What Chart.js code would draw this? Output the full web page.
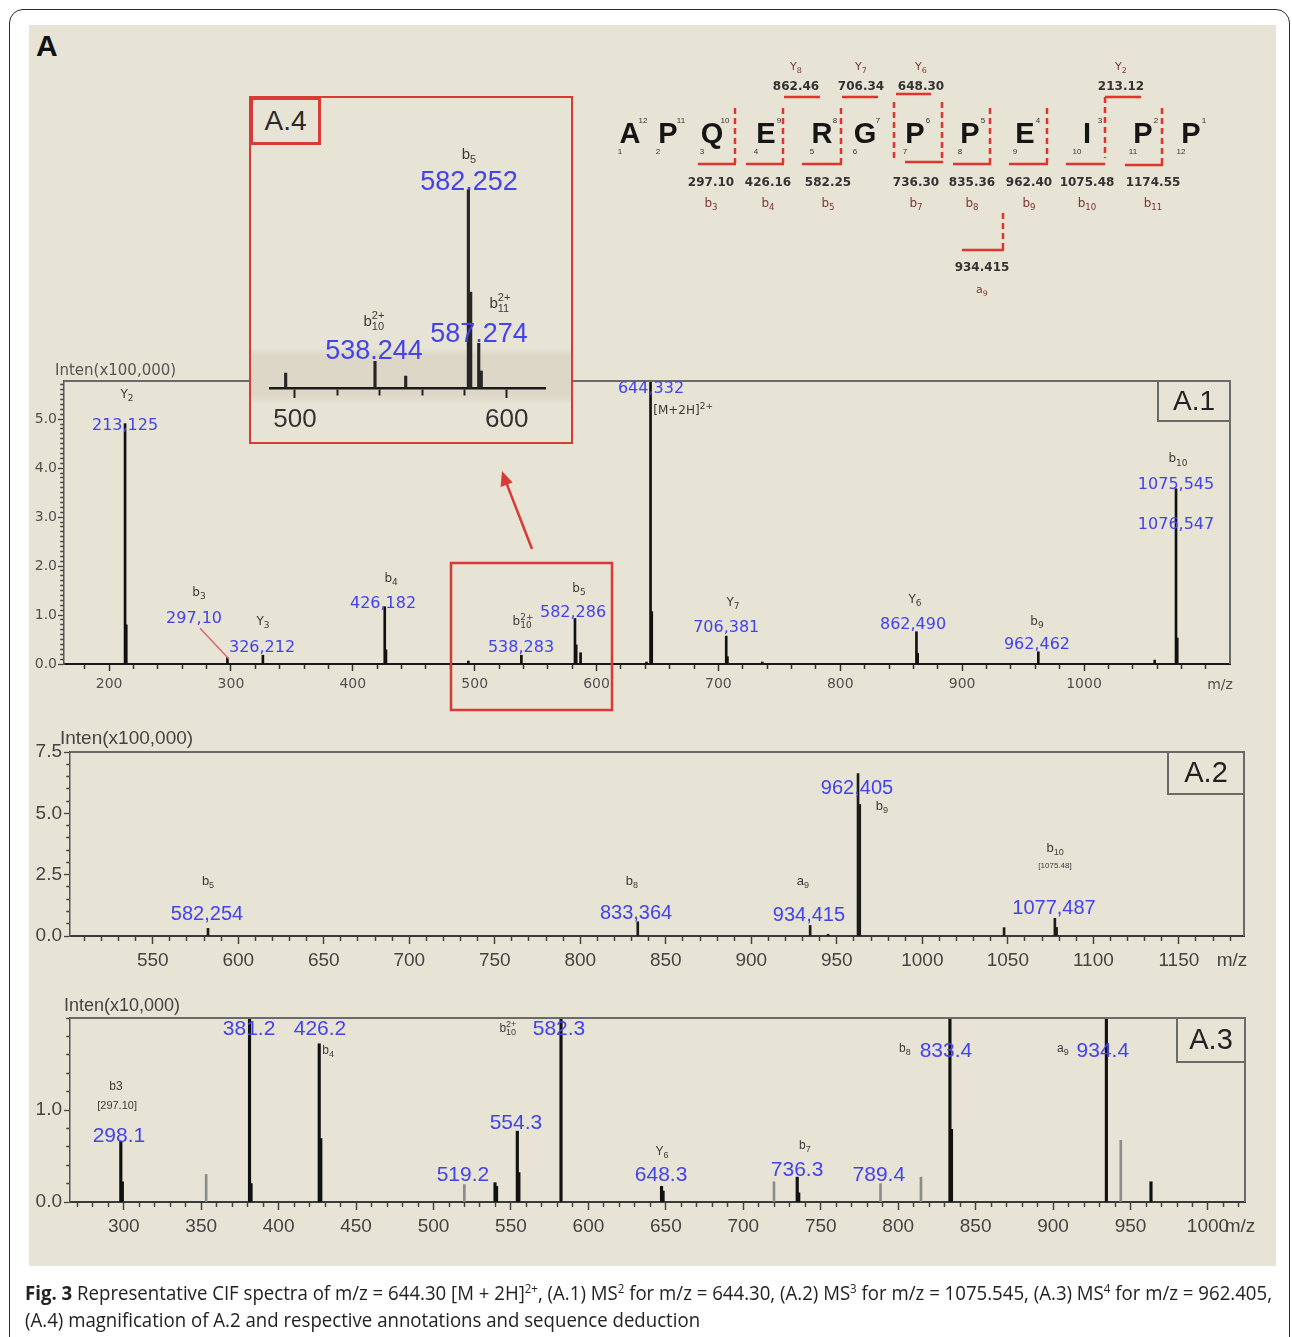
<!DOCTYPE html>
<html>
<head>
<meta charset="utf-8">
<title>Fig. 3 Representative CIF spectra</title>
<script src="https://cdn.jsdelivr.net/npm/chart.js@4.4.1/dist/chart.umd.min.js"></script>
<style>
  html, body { margin:0; padding:0; background:#fff; }
  #page { position:relative; width:1292px; height:1337px; overflow:hidden; background:#fff; font-family:"Liberation Sans", Arial, sans-serif; }
  #frame { position:absolute; left:9px; top:9px; width:1281px; height:1400px; border:1.5px solid #2b2b2b; border-radius:14px; box-sizing:border-box; }
  #panel { position:absolute; left:29px; top:25px; width:1247px; height:1241px; background:rgb(231,227,213); }
  #bigA { position:absolute; left:36px; top:29px; font:bold 30px "Liberation Sans", Arial, sans-serif; color:#111; }
  canvas { position:absolute; }
  #c1, #c2, #c3 { z-index:1; }
  #inset { position:absolute; left:249px; top:96px; width:324px; height:348px; box-sizing:border-box; border:2.5px solid #d83a36; background:rgb(231,227,213); z-index:2; }
  #band { position:absolute; left:0; right:0; top:250px; height:56px; background:linear-gradient(to bottom, rgba(218,213,196,0) 0px, rgb(220,215,198) 8px, rgb(220,215,198) 46px, rgba(218,213,196,0) 56px); }
  #a4label { position:absolute; left:-1px; top:-1px; width:71px; height:48px; box-sizing:border-box; border:3px solid #d83a36; font:28px "Liberation Sans", Arial, sans-serif; color:#2a2a2a; text-align:center; line-height:42px; }
  #c4 { z-index:3; }
  #overlay { position:absolute; left:0; top:0; z-index:4; pointer-events:none; }
  .cap { position:absolute; left:25px; white-space:nowrap; font:20px "Liberation Sans Narrow", "Open Sans", sans-serif; line-height:26px; color:#222; transform-origin:0 0; z-index:5; }
  .cap sup { font-size:0.62em; line-height:0; vertical-align:0.55em; }
  #cap1 { top:1280px; }
  #cap2 { top:1307px; }
</style>
</head>
<body>
<div id="page">
  <div id="frame"></div>
  <div id="panel"></div>
  <div id="bigA">A</div>
  <canvas id="c1" width="1250" height="350"></canvas>
  <canvas id="c2" width="1250" height="260"></canvas>
  <canvas id="c3" width="1250" height="265"></canvas>
  <div id="inset"><div id="band"></div><div id="a4label">A.4</div></div>
  <canvas id="c4" width="318" height="342"></canvas>
  <svg id="overlay" width="1292" height="1337" xmlns="http://www.w3.org/2000/svg"></svg>
  <div id="cap1" class="cap"><b>Fig. 3</b> Representative CIF spectra of m/z = 644.30 [M + 2H]<sup>2+</sup>, (A.1) MS<sup>2</sup> for m/z = 644.30, (A.2) MS<sup>3</sup> for m/z = 1075.545, (A.3) MS<sup>4</sup> for m/z = 962.405,</div>
  <div id="cap2" class="cap">(A.4) magnification of A.2 and respective annotations and sequence deduction</div>
</div>
<script>
// ===================== DATA =====================
// A.1  MS2 of m/z 644.30  (intensity x100,000)
const a1Mz        = [213.1, 214.1, 297.1, 326.2, 426.2, 427.2, 494.8, 538.3, 582.3, 583.3, 586.9, 641.0, 644.3, 645.3, 706.4, 707.4, 736.0, 862.5, 863.5, 962.5, 1058.0, 1075.5, 1076.5];
const a1Intensity = [4.91,  0.80,  0.13,  0.18,  1.17,  0.29,  0.06,  0.18,  0.93,  0.39,  0.23,  0.04,  6.20,  1.07,  0.57,  0.15,  0.04,  0.66,  0.22,  0.25,  0.08,   3.58,   0.53];
const a1XTickLabels = [200, 300, 400, 500, 600, 700, 800, 900, 1000];
const a1YTickLabels = [0, 1, 2, 3, 4, 5];

// A.2  MS3 of m/z 1075.545  (intensity x100,000)
const a2Mz        = [582.3, 833.6, 934.4, 944.9, 962.4, 963.4, 1047.8, 1077.5, 1078.5];
const a2Intensity = [0.31,  0.58,  0.43,  0.07,  6.62,  5.36,  0.34,   0.72,   0.35];
const a2XTickLabels = [550, 600, 650, 700, 750, 800, 850, 900, 950, 1000, 1050, 1100, 1150];
const a2YTickLabels = [0, 2.5, 5.0, 7.5];

// A.3  MS4 of m/z 962.405  (intensity x10,000)
const a3Mz            = [298.1, 299.1, 381.2, 382.2, 426.2, 427.2, 539.7, 540.7, 554.1, 555.1, 582.3, 647.2, 648.2, 734.8, 735.8, 833.4, 834.4, 934.4, 963.2];
const a3Intensity     = [0.66,  0.22,  2.60,  0.20,  1.72,  0.69,  0.21,  0.17,  0.77,  0.32,  2.60,  0.17,  0.12,  0.27,  0.10,  2.60,  0.79,  2.60,  0.22];
const a3MinorMz        = [353.2, 519.9, 719.8, 788.6, 814.7, 943.7];
const a3MinorIntensity = [0.30,  0.19,  0.22,  0.20,  0.27,  0.67];
const a3XTickLabels = [300, 350, 400, 450, 500, 550, 600, 650, 700, 750, 800, 850, 900, 950, 1000];
const a3YTickLabels = [0, 1.0];

// A.4  magnified region 490-610 (same units as A.1)
const a4Mz        = [495.6, 537.8, 552.3, 581.9, 583.0, 586.8, 588.0];
const a4Intensity = [0.070, 0.125, 0.056, 0.930, 0.450, 0.210, 0.080];
const a4XTickLabels = [500, 600];

// Peak annotations: [text, m/z anchor, intensity anchor]
const a1PeakNotes = [['213,125',213.1,4.86],['297,10',269.7,0.92],['326,212',325.5,0.33],['426,182',424.8,1.22],['538,283',538.0,0.33],['582,286',580.7,1.04],['644,332',644.7,5.63],['706,381',706.4,0.73],['862,490',859.7,0.80],['962,462',961.4,0.39],['1075,545',1075.5,3.65],['1076,547',1075.5,2.84]];
const a1IonNotes  = [['Y_{2}',214.7,5.49],['b_{3}',273.8,1.45],['Y_{3}',326.3,0.86],['b_{4}',431.4,1.73],['b_{10}^{2+}',539.7,0.86],['b_{5}',585.6,1.53],['[M+2H]^{2+}',671,5.16],['Y_{7}',712,1.24],['Y_{6}',861.3,1.31],['b_{9}',961.4,0.86],['b_{10}',1077.1,4.18]];
const a2PeakNotes = [['582,254',581.7,0.86],['833,364',832.6,0.90],['934,415',933.7,0.82],['962,405',961.8,6.03],['1077,487',1077.0,1.14]];
const a2IonNotes  = [['b_{5}',582.3,2.24],['b_{8}',830.2,2.24],['a_{9}',930.2,2.24],['b_{9}',976.4,5.30],['b_{10}',1077.6,3.59]];
const a2TinyNotes = [['[1075.48]',1077.6,2.85]];
const a3PeakNotes = [['298.1',296.9,0.72],['381.2',380.9,1.88],['426.2',426.7,1.88],['582.3',581.0,1.88],['519.2',519.0,0.29],['554.3',553.2,0.86],['648.3',646.9,0.29],['736.3',734.7,0.35],['789.4',787.5,0.29],['833.4',830.8,1.64],['934.4',932.1,1.64]];
const a3IonNotes  = [['b3',295.0,1.25],['b_{4}',431.9,1.65],['b_{10}^{2+}',548.0,1.88],['Y_{6}',647.5,0.55],['b_{7}',739.8,0.61],['b_{8}',804.3,1.67],['a_{9}',906.3,1.67]];
const a3TinyNotes = [['[297.10]',295.7,1.04]];
const a4PeakNotes = [['582.252',582.2,0.962],['538.244',537.3,0.169],['587.274',586.9,0.249]];
const a4IonNotes  = [['b_{5}',582.2,1.094],['b_{10}^{2+}',537.3,0.31],['b_{11}^{2+}',596.8,0.394]];

// Sequence deduction
const seqResidues   = ['A','P','Q','E','R','G','P','P','E','I','P','P'];
const seqBIonMasses = ['297.10','426.16','582.25','736.30','835.36','962.40','1075.48','1174.55'];
const seqBIonNames  = ['b_{3}','b_{4}','b_{5}','b_{7}','b_{8}','b_{9}','b_{10}','b_{11}'];
const seqYIonMasses = ['862.46','706.34','648.30','213.12'];
const seqYIonNames  = ['Y_{8}','Y_{7}','Y_{6}','Y_{2}'];
const seqAIonMass = '934.415', seqAIonName = 'a_{9}';

// ===================== HELPERS =====================
const FONT_D = '"DejaVu Sans", Verdana, sans-serif';
const FONT_L = '"Liberation Sans", Arial, sans-serif';
const BLUE = '#4343ec';

function parseRich(spec) {
  return (spec.match(/_\{[^}]*\}|\^\{[^}]*\}|[^_^]+/g) || []).map(p => {
    if (p.startsWith('_{')) return {t: p.slice(2, -1), k: 'sub'};
    if (p.startsWith('^{')) return {t: p.slice(2, -1), k: 'sup'};
    return {t: p, k: 'n'};
  });
}
function drawRich(ctx, spec, cx, cy, size, color, family) {
  const parts = parseRich(spec);
  const small = Math.round(size * 0.72);
  let x = 0, scriptStart = null, scriptW = 0;
  const items = [];
  parts.forEach(p => {
    ctx.font = (p.k === 'n' ? size : small) + 'px ' + family;
    const w = ctx.measureText(p.t).width;
    if (p.k === 'n') { items.push({...p, x}); x += w; scriptStart = null; }
    else {
      if (scriptStart === null) { scriptStart = x; scriptW = 0; }
      items.push({...p, x: scriptStart});
      scriptW = Math.max(scriptW, w); x = scriptStart + scriptW;
    }
  });
  const x0 = cx - x / 2;
  ctx.save();
  ctx.fillStyle = color; ctx.textBaseline = 'middle'; ctx.textAlign = 'left';
  items.forEach(it => {
    ctx.font = (it.k === 'n' ? size : small) + 'px ' + family;
    const dy = it.k === 'sub' ? size * 0.32 : it.k === 'sup' ? -size * 0.38 : 0;
    ctx.fillText(it.t, x0 + it.x, cy + dy);
  });
  ctx.restore();
}
function makeTicks(min, max, step) {
  const out = [];
  for (let k = Math.ceil(min / step - 1e-9); k * step <= max + 1e-9; k++) out.push({value: Math.round(k * step * 1000) / 1000});
  return out;
}
const has = (arr, v) => arr.some(t => Math.abs(t - v) < 1e-6);

function spectrum(cfg) {
  const cv = document.getElementById(cfg.canvas);
  cv.style.left = cfg.pos.left + 'px'; cv.style.top = cfg.pos.top + 'px';
  const W = cv.width, H = cv.height;
  const L = cfg.area.left - cfg.pos.left, R = cfg.area.right - cfg.pos.left;
  const T = cfg.area.top - cfg.pos.top, B = cfg.area.bottom - cfg.pos.top;
  const yShow = cfg.yShow !== false;
  const yt = cfg.yTick || {len: 0, minor: 0, width: 0, color: '#000', pad: 0};

  const datasets = cfg.series.map(s => ({
    data: s.mz.map((m, i) => ({x: m, y: s.y[i]})),
    backgroundColor: s.color, borderWidth: 0, barThickness: s.thick, grouped: false
  }));

  const decor = {
    id: 'decor_' + cfg.canvas,
    afterDraw(chart) {
      const {ctx, chartArea: ca} = chart;
      const xs = chart.scales.x, ys = chart.scales.y;
      ctx.save();
      if (cfg.frame) {
        ctx.strokeStyle = cfg.frame.color; ctx.lineWidth = cfg.frame.width;
        ctx.beginPath(); ctx.moveTo(ca.left, ca.top); ctx.lineTo(ca.right, ca.top); ctx.lineTo(ca.right, ca.bottom); ctx.stroke();
      }
      if (cfg.box) {
        const b = cfg.box;
        ctx.strokeStyle = cfg.frame.color; ctx.lineWidth = 2;
        ctx.beginPath(); ctx.moveTo(ca.right - b.w, ca.top); ctx.lineTo(ca.right - b.w, ca.top + b.h); ctx.lineTo(ca.right, ca.top + b.h); ctx.stroke();
        ctx.fillStyle = '#222'; ctx.font = b.size + 'px ' + FONT_L; ctx.textAlign = 'center'; ctx.textBaseline = 'middle';
        ctx.fillText(b.text, ca.right - b.w / 2, ca.top + b.h / 2 + 1);
      }
      if (cfg.title) {
        ctx.fillStyle = cfg.title.color; ctx.font = cfg.title.font; ctx.textAlign = 'left'; ctx.textBaseline = 'middle';
        ctx.fillText(cfg.title.text, ca.left + cfg.title.dx, ca.top + cfg.title.dy);
      }
      if (cfg.mz) {
        ctx.fillStyle = cfg.mz.color; ctx.font = cfg.mz.font; ctx.textAlign = 'center'; ctx.textBaseline = 'middle';
        ctx.fillText('m/z', ca.right + cfg.mz.dx, ca.bottom + cfg.mz.dy);
      }
      (cfg.leaders || []).forEach(l => {
        ctx.strokeStyle = l.color; ctx.lineWidth = 1.5;
        ctx.beginPath();
        ctx.moveTo(xs.getPixelForValue(l.from[0]), ys.getPixelForValue(l.from[1]));
        ctx.lineTo(xs.getPixelForValue(l.to[0]), ys.getPixelForValue(l.to[1]));
        ctx.stroke();
      });
      (cfg.peakNotes || []).forEach(n => drawRich(ctx, n[0], xs.getPixelForValue(n[1]), ys.getPixelForValue(n[2]), cfg.peakFont.size, BLUE, cfg.peakFont.family));
      (cfg.ionNotes || []).forEach(n => drawRich(ctx, n[0], xs.getPixelForValue(n[1]), ys.getPixelForValue(n[2]), cfg.ionFont.size, '#3a3a3a', cfg.ionFont.family));
      (cfg.tinyNotes || []).forEach(n => drawRich(ctx, n[0], xs.getPixelForValue(n[1]), ys.getPixelForValue(n[2]), cfg.tinySize, '#3a3a3a', cfg.ionFont.family));
      ctx.restore();
    }
  };

  return new Chart(cv, {
    type: 'bar',
    data: {datasets},
    options: {
      responsive: false, animation: false, events: [],
      layout: {padding: {left: yShow ? 0 : L, right: W - R, top: T, bottom: 0}},
      plugins: {legend: {display: false}, tooltip: {enabled: false}},
      scales: {
        x: {
          type: 'linear', bounds: 'data', min: cfg.xMin, max: cfg.xMax, offset: false,
          grid: {
            display: true, offset: false, drawOnChartArea: false, drawTicks: true,
            tickLength: cfg.xTick.len, tickWidth: cfg.xTick.width, tickColor: cfg.xTick.color,
            tickBorderDash: c => (c.tick && has(cfg.xLabels, c.tick.value)) ? [] : [cfg.xTick.minor, 100]
          },
          border: {display: true, color: cfg.xBorder.color, width: cfg.xBorder.width},
          ticks: {
            autoSkip: false, maxRotation: 0, minRotation: 0, padding: cfg.xTick.pad,
            color: cfg.tickColor, font: {size: cfg.tickFont.size, family: cfg.tickFont.family},
            callback: v => has(cfg.xLabels, v) ? String(v) : ''
          },
          afterBuildTicks: s => { s.ticks = makeTicks(cfg.xMin, cfg.xMax, cfg.xStep); },
          afterFit: s => { s.height = H - B; s.paddingLeft = 0; s.paddingRight = 0; }
        },
        y: {
          type: 'linear', bounds: 'data', min: 0, max: cfg.yMax, display: yShow,
          grid: {
            display: true, drawOnChartArea: false, drawTicks: true,
            tickLength: yt.len, tickWidth: yt.width, tickColor: yt.color,
            tickBorderDash: c => (c.tick && cfg.yLabels && has(cfg.yLabels, c.tick.value)) ? [] : [0, Math.max(0.5, yt.len - yt.minor - 0.75), yt.minor + 2, 100]
          },
          border: {display: true, color: cfg.yBorder ? cfg.yBorder.color : '#000', width: cfg.yBorder ? cfg.yBorder.width : 1},
          ticks: {
            autoSkip: false, padding: yt.pad,
            color: cfg.tickColor, font: {size: cfg.tickFont.size, family: cfg.tickFont.family},
            callback: v => (cfg.yLabels && has(cfg.yLabels, v)) ? Number(v).toFixed(1) : ''
          },
          afterBuildTicks: s => { if (cfg.yStep) s.ticks = makeTicks(0, cfg.yMax, cfg.yStep); },
          afterFit: s => { s.width = yShow ? L : 0; s.paddingTop = 0; s.paddingBottom = 0; }
        }
      }
    },
    plugins: [decor]
  });
}

// ===================== CHARTS =====================
spectrum({
  canvas: 'c1', pos: {left: 20, top: 355}, area: {left: 64, right: 1230, top: 381, bottom: 664},
  xMin: 163, xMax: 1119.8, xStep: 20, xLabels: a1XTickLabels,
  yMax: 5.78, yStep: 0.1, yLabels: a1YTickLabels,
  tickFont: {family: FONT_D, size: 14}, tickColor: '#505050',
  xTick: {len: 7, minor: 4, width: 1.5, color: '#333', pad: 5},
  yTick: {len: 6, minor: 3, width: 1.3, color: '#444', pad: 1},
  xBorder: {color: '#1a1a1a', width: 2}, yBorder: {color: '#555', width: 1.5},
  series: [{mz: a1Mz, y: a1Intensity, color: '#111', thick: 2}],
  frame: {color: '#6a6a6a', width: 2}, box: {text: 'A.1', w: 72, h: 40, size: 28},
  title: {text: 'Inten(x100,000)', dx: -9, dy: -10, font: '15px ' + FONT_D, color: '#555'},
  mz: {dx: -10, dy: 21, font: '14px ' + FONT_D, color: '#505050'},
  peakFont: {family: FONT_D, size: 16}, ionFont: {family: FONT_D, size: 12},
  peakNotes: a1PeakNotes, ionNotes: a1IonNotes,
  leaders: [{from: [274.6, 0.73], to: [298.4, 0.10], color: '#d66a6a'}]
});

spectrum({
  canvas: 'c2', pos: {left: 20, top: 725}, area: {left: 70, right: 1244, top: 752, bottom: 936},
  xMin: 501.6, xMax: 1188.1, xStep: 10, xLabels: a2XTickLabels,
  yMax: 7.5, yStep: 0.5, yLabels: a2YTickLabels,
  tickFont: {family: FONT_L, size: 19}, tickColor: '#444',
  xTick: {len: 8, minor: 4, width: 1.5, color: '#444', pad: 5},
  yTick: {len: 6, minor: 3, width: 1.3, color: '#444', pad: 2},
  xBorder: {color: '#3a3a3a', width: 2}, yBorder: {color: '#555', width: 1.5},
  series: [{mz: a2Mz, y: a2Intensity, color: '#1c1c1c', thick: 2}],
  frame: {color: '#6a6a6a', width: 2}, box: {text: 'A.2', w: 76, h: 42, size: 29},
  title: {text: 'Inten(x100,000)', dx: -10, dy: -13, font: '19px ' + FONT_L, color: '#444'},
  mz: {dx: -12, dy: 25, font: '19px ' + FONT_L, color: '#444'},
  peakFont: {family: FONT_L, size: 20}, ionFont: {family: FONT_L, size: 13}, tinySize: 8,
  peakNotes: a2PeakNotes, ionNotes: a2IonNotes, tinyNotes: a2TinyNotes
});

spectrum({
  canvas: 'c3', pos: {left: 20, top: 990}, area: {left: 70, right: 1245, top: 1018, bottom: 1202},
  xMin: 265.3, xMax: 1023.9, xStep: 10, xLabels: a3XTickLabels,
  yMax: 2.0, yStep: 0.2, yLabels: a3YTickLabels,
  tickFont: {family: FONT_L, size: 19}, tickColor: '#444',
  xTick: {len: 8, minor: 4, width: 1.5, color: '#444', pad: 5},
  yTick: {len: 6, minor: 3, width: 1.3, color: '#444', pad: 2},
  xBorder: {color: '#3a3a3a', width: 2}, yBorder: {color: '#555', width: 1.5},
  series: [
    {mz: a3MinorMz, y: a3MinorIntensity, color: '#8c8c8c', thick: 2},
    {mz: a3Mz, y: a3Intensity, color: '#111', thick: 2.5}
  ],
  frame: {color: '#6a6a6a', width: 2}, box: {text: 'A.3', w: 68, h: 44, size: 29},
  title: {text: 'Inten(x10,000)', dx: -6, dy: -12, font: '18px ' + FONT_L, color: '#444'},
  mz: {dx: -5, dy: 25, font: '19px ' + FONT_L, color: '#444'},
  peakFont: {family: FONT_L, size: 21}, ionFont: {family: FONT_L, size: 12}, tinySize: 11,
  peakNotes: a3PeakNotes, ionNotes: a3IonNotes, tinyNotes: a3TinyNotes
});

spectrum({
  canvas: 'c4', pos: {left: 252, top: 99}, area: {left: 270, right: 545, top: 150, bottom: 388},
  xMin: 488.2, xMax: 618.1, xStep: 20, xLabels: a4XTickLabels,
  yMax: 1.117, yShow: false,
  tickFont: {family: FONT_L, size: 26}, tickColor: '#333',
  xTick: {len: 10, minor: 6, width: 2, color: '#222', pad: 6},
  xBorder: {color: '#1a1a1a', width: 2.5},
  series: [{mz: a4Mz, y: a4Intensity, color: '#262626', thick: 2.5}],
  peakFont: {family: FONT_L, size: 27}, ionFont: {family: FONT_L, size: 15},
  peakNotes: a4PeakNotes, ionNotes: a4IonNotes
});

// ===================== OVERLAY (sequence, zoom box, arrow) =====================
(function () {
  const RED = '#e0342f';
  const resX = [630, 668, 712, 766, 822, 865, 915, 970, 1025, 1087, 1143, 1191];
  const cutX = [[735,108,163],[783,108,163],[841,108,163],[894,102,162],[942,102,162],[990,108,163],[1047,108,163],[1105,97,158],[1162,108,165]];
  const bBr = [[698,735,164],[746,783,164],[802,841,164],[905,942,162],[953,990,164],[1009,1047,164],[1066,1104,164],[1125,1162,165]];
  const bLabX = [711, 768, 828, 916, 972, 1029, 1087, 1153];
  const yBr = [[784,820,97],[842,878,97],[896,931,94],[1105,1141,97]];
  const yLabX = [796, 861, 921, 1121];
  const rich = (spec, size) => parseRich(spec).map(p => p.k === 'n' ? p.t :
      `<tspan font-size="${size * 0.72}" dy="${p.k === 'sub' ? 3 : -5}">${p.t}</tspan><tspan dy="${p.k === 'sub' ? -3 : 5}"></tspan>`).join('');
  let s = '';
  s += `<g font-family='"Liberation Sans", Arial, sans-serif'>`;
  seqResidues.forEach((r, i) => {
    const x = resX[i];
    s += `<text x="${x}" y="143" font-size="29" font-weight="bold" text-anchor="middle" fill="#151515">${r}</text>`;
    s += `<text x="${x + 13}" y="123" font-size="8" text-anchor="middle" fill="#333">${12 - i}</text>`;
    s += `<text x="${x - 10}" y="154" font-size="8" text-anchor="middle" fill="#333">${i + 1}</text>`;
  });
  cutX.forEach(c => { s += `<line x1="${c[0]}" y1="${c[1]}" x2="${c[0]}" y2="${c[2]}" stroke="${RED}" stroke-width="2.5" stroke-dasharray="6 4"/>`; });
  bBr.forEach(b => { s += `<line x1="${b[0]}" y1="${b[2]}" x2="${b[1] + 1}" y2="${b[2]}" stroke="${RED}" stroke-width="2.6"/>`; });
  yBr.forEach(b => { s += `<line x1="${b[0]}" y1="${b[2]}" x2="${b[1]}" y2="${b[2]}" stroke="${RED}" stroke-width="2.6"/>`; });
  s += `<line x1="1003" y1="213" x2="1003" y2="249" stroke="${RED}" stroke-width="2.5" stroke-dasharray="6 4"/>`;
  s += `<line x1="962" y1="250" x2="1004" y2="250" stroke="${RED}" stroke-width="2.6"/>`;
  s += `</g>`;
  s += `<g font-family='"DejaVu Sans", Verdana, sans-serif' text-anchor="middle">`;
  seqBIonMasses.forEach((m, i) => {
    s += `<text x="${bLabX[i]}" y="186" font-size="12" font-weight="bold" fill="#333">${m}</text>`;
    s += `<text x="${bLabX[i]}" y="207" font-size="12" fill="#7d3434">${rich(seqBIonNames[i], 12)}</text>`;
  });
  seqYIonMasses.forEach((m, i) => {
    s += `<text x="${yLabX[i]}" y="90" font-size="12" font-weight="bold" fill="#333">${m}</text>`;
    s += `<text x="${yLabX[i]}" y="70" font-size="11" fill="#7d3434">${rich(seqYIonNames[i], 11)}</text>`;
  });
  s += `<text x="982" y="271" font-size="12" font-weight="bold" fill="#333">${seqAIonMass}</text>`;
  s += `<text x="982" y="293" font-size="11" fill="#7d3434">${rich(seqAIonName, 11)}</text>`;
  s += `</g>`;
  s += `<rect x="451" y="563" width="161" height="147" fill="none" stroke="#d83a36" stroke-width="2.5"/>`;
  s += `<line x1="532" y1="549" x2="506" y2="482" stroke="#d83a36" stroke-width="2.5"/>`;
  s += `<polygon points="502,471 512.6,482.5 500.6,487" fill="#d83a36"/>`;
  document.getElementById('overlay').innerHTML = s;
})();

// ===================== CAPTION FIT =====================
(function () {
  const c1 = document.getElementById('cap1'), c2 = document.getElementById('cap2');
  const w = c1.scrollWidth;
  const k = 1247 / w;
  c1.style.transform = `scaleX(${k})`;
  c2.style.transform = `scaleX(${k})`;
})();
</script>
</body>
</html>
